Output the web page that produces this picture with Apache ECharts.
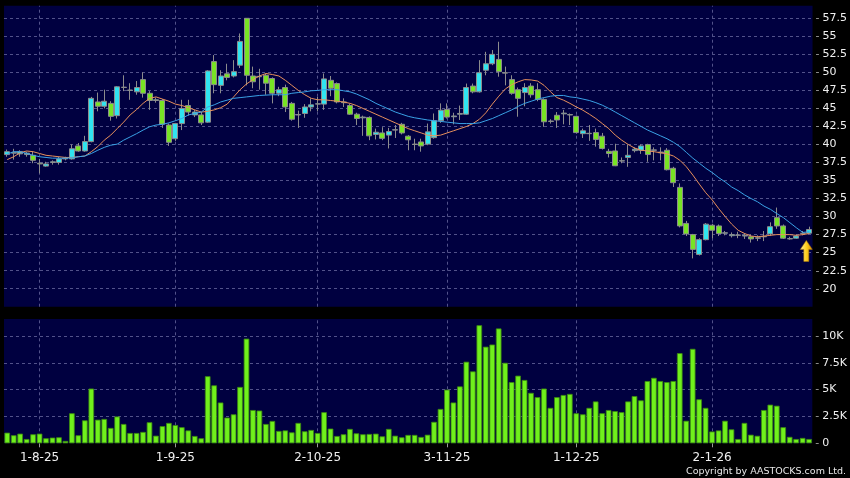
<!DOCTYPE html>
<html>
<head>
<meta charset="utf-8">
<script src="https://cdn.jsdelivr.net/npm/echarts@6/dist/echarts.min.js"></script>
<style>
html,body{margin:0;padding:0;background:#000;}
#chart{width:850px;height:478px;}
</style>
</head>
<body>
<div id="chart"></div>
<script>
const dates = [
'25-7-25','28-7-25','29-7-25','30-7-25','31-7-25',
'1-8-25','4-8-25','5-8-25','6-8-25','7-8-25','8-8-25','11-8-25','12-8-25','13-8-25','14-8-25','15-8-25','18-8-25','19-8-25','20-8-25','21-8-25','22-8-25','25-8-25','26-8-25','27-8-25','28-8-25','29-8-25',
'1-9-25','2-9-25','3-9-25','4-9-25','5-9-25','8-9-25','9-9-25','10-9-25','11-9-25','12-9-25','15-9-25','16-9-25','17-9-25','18-9-25','19-9-25','22-9-25','23-9-25','24-9-25','25-9-25','26-9-25','29-9-25','30-9-25',
'2-10-25','3-10-25','6-10-25','8-10-25','9-10-25','10-10-25','13-10-25','14-10-25','15-10-25','16-10-25','17-10-25','20-10-25','21-10-25','22-10-25','23-10-25','24-10-25','27-10-25','28-10-25','30-10-25','31-10-25',
'3-11-25','4-11-25','5-11-25','6-11-25','7-11-25','10-11-25','11-11-25','12-11-25','13-11-25','14-11-25','17-11-25','18-11-25','19-11-25','20-11-25','21-11-25','24-11-25','25-11-25','26-11-25','27-11-25','28-11-25',
'1-12-25','2-12-25','3-12-25','4-12-25','5-12-25','8-12-25','9-12-25','10-12-25','11-12-25','12-12-25','15-12-25','16-12-25','17-12-25','18-12-25','19-12-25','22-12-25','23-12-25','24-12-25','29-12-25','30-12-25','31-12-25',
'2-1-26','5-1-26','6-1-26','7-1-26','8-1-26','9-1-26','12-1-26','13-1-26','14-1-26','15-1-26','16-1-26','19-1-26','20-1-26','21-1-26','22-1-26','23-1-26'
];

const tickLabels = ['1-8-25','1-9-25','2-10-25','3-11-25','1-12-25','2-1-26'];
const priceTicks = [20,22.5,25,27.5,30,32.5,35,37.5,40,42.5,45,47.5,50,52.5,55,57.5];
const volumeTicks = ['0','2.5K','5K','7.5K','10K'];

const opens = [
38.6,38.8,38.7,38.6,38.5,37.4,37.0,37.5,37.5,38.0,
38.0,39.8,39.1,40.4,45.9,45.3,45.7,44.0,47.9,47.5,
47.3,49.0,47.1,46.1,46.1,42.7,40.8,42.9,45.4,44.1,
44.1,43.1,51.5,48.2,49.8,49.5,51.0,57.5,49.5,49.4,
49.6,49.15,47.1,47.9,45.7,44.1,44.3,45.2,45.6,45.6,
48.9,48.45,45.9,45.4,44.2,43.7,43.75,41.4,41.6,41.3,
42.0,42.8,41.15,40.05,40.35,40.05,40.95,43.3,44.85,43.85,
44.2,44.2,48.1,47.3,50.3,51.2,51.8,49.95,49.0,47.6,
47.2,48.1,47.6,46.25,43.25,44.05,44.25,44.1,43.9,41.5,
41.5,41.65,41.15,39.05,39.1,37.7,38.2,39.15,39.2,40.0,
39.2,38.95,39.2,36.7,34.05,29.05,27.5,24.75,26.8,28.8,
28.7,27.7,27.35,27.4,27.3,27.2,27.0,27.2,27.6,29.85,
28.7,26.9,27.0,27.65,27.7
];
const closes = [
39.0,38.9,39.0,38.8,37.8,37.3,37.3,37.6,38.0,38.1,
39.4,39.1,40.4,46.4,45.3,46.0,43.9,48.0,47.95,47.55,
47.9,47.1,46.1,46.2,42.8,40.3,42.9,45.0,44.5,44.5,
43.0,50.2,48.3,49.5,49.3,50.1,54.3,49.6,48.7,49.45,
48.5,47.1,47.6,45.2,43.5,44.15,45.2,45.5,45.65,49.1,
47.8,45.9,45.8,44.2,43.6,43.8,41.2,41.7,40.85,41.8,
42.05,41.6,40.65,40.0,39.8,41.75,43.3,44.75,43.8,43.95,
44.3,47.9,47.3,49.95,51.2,52.5,50.1,49.9,47.1,46.4,
47.9,46.9,46.25,43.15,43.2,43.4,44.35,44.15,41.65,41.9,
41.55,40.7,39.45,38.75,37.05,37.75,38.5,39.35,39.8,38.6,
39.25,38.85,36.5,34.7,28.7,27.6,25.45,26.8,28.95,28.1,
27.65,27.75,27.5,27.45,27.4,26.9,27.05,27.25,28.6,28.7,
27.0,26.95,27.3,27.7,28.2
];
const lows = [
38.3,37.9,38.3,38.3,37.4,36.0,36.9,37.2,37.2,37.8,
37.9,39.0,39.0,40.3,44.6,45.0,43.3,43.6,47.4,46.2,
46.9,46.5,44.8,45.8,42.3,39.8,40.5,42.0,44.0,43.8,
42.7,43.0,47.1,47.1,48.9,49.3,50.6,48.2,47.8,47.6,
46.9,45.7,46.7,44.5,43.3,42.3,43.7,44.6,44.6,44.8,
46.7,45.7,45.2,44.1,42.7,41.2,40.6,40.7,40.6,39.45,
40.9,41.4,39.2,39.2,39.0,39.9,40.8,43.0,43.6,42.8,
43.4,44.1,47.1,47.2,49.6,51.0,49.4,48.2,46.9,43.85,
45.3,46.5,46.0,42.45,42.9,42.3,42.8,42.7,41.5,40.9,
40.5,39.7,39.3,38.2,37.0,37.4,36.9,38.9,38.7,37.6,
37.8,37.8,36.4,34.1,28.5,27.3,24.2,24.6,26.7,27.0,
27.3,27.4,27.1,27.0,26.9,26.4,26.6,26.6,27.3,28.3,
26.9,26.8,26.9,27.4,27.6
];
const highs = [
39.3,39.4,39.2,39.0,39.0,38.0,37.6,37.8,38.3,38.3,
40.0,40.2,41.2,46.6,47.2,47.6,46.0,48.1,49.6,48.5,
48.8,50.0,47.4,46.5,46.3,42.9,43.0,46.2,46.2,44.8,
44.5,50.3,52.4,50.3,51.2,51.7,55.4,57.5,50.8,50.5,
49.8,49.3,48.0,48.3,45.9,44.7,45.6,46.4,46.6,49.85,
49.5,48.6,46.4,45.6,44.4,44.0,43.9,42.2,42.4,42.3,
42.7,43.0,41.3,40.8,40.8,42.9,44.3,45.7,45.7,44.4,
45.4,48.45,48.45,51.7,52.85,53.1,54.25,50.8,49.6,47.9,
48.5,48.5,48.5,46.4,43.5,44.5,44.8,44.3,44.0,42.2,
42.7,42.2,41.6,39.4,40.1,38.2,40.0,39.6,40.0,40.1,
39.6,39.6,39.5,36.9,34.6,29.4,27.6,27.0,29.1,29.0,
28.9,28.0,27.8,27.9,27.7,27.5,27.4,28.0,29.2,31.25,
28.9,27.2,27.5,28.0,28.6
];
const maOrange = [
37.9,38.3,38.85,39.1,39.0,38.75,38.5,38.4,38.3,38.2,
38.2,38.3,38.4,39.0,39.7,40.6,41.3,42.2,43.1,44.1,
44.85,45.7,46.4,46.6,46.3,46.0,45.6,45.4,45.1,44.8,
44.5,44.6,44.8,45.1,45.6,46.6,47.6,48.4,49.0,49.5,
49.85,49.7,49.5,48.9,48.2,47.5,46.9,46.4,46.2,46.2,
46.1,46.0,45.9,45.7,45.4,45.0,44.6,44.2,43.8,43.4,
43.0,42.6,42.2,41.9,41.6,41.3,41.2,41.3,41.6,41.9,
42.2,42.5,42.9,43.5,44.4,45.6,46.7,47.7,48.3,48.7,
49.0,48.95,48.8,48.2,47.3,46.5,46.15,45.7,45.2,44.75,
44.2,43.6,42.9,42.2,41.3,40.6,40.0,39.5,39.2,39.1,
39.0,38.85,38.7,38.4,37.8,36.9,35.75,34.5,33.3,32.3,
31.1,30.0,28.95,28.1,27.65,27.3,27.2,27.3,27.4,27.5,
27.5,27.5,27.4,27.5,27.65
];
const maBlue = [
38.66,39.0,39.0,38.75,38.5,38.3,38.2,38.1,38.1,38.1,
38.15,38.3,38.4,38.75,39.2,39.6,39.9,40.05,40.6,41.05,
41.5,42.0,42.45,42.7,42.8,43.0,43.3,43.6,44.1,44.3,
44.5,45.2,45.5,45.9,46.15,46.4,46.5,46.6,46.7,46.8,
46.85,46.9,46.9,46.9,47.1,47.2,47.3,47.45,47.5,47.6,
47.6,47.6,47.45,47.3,47.0,46.6,46.2,45.7,45.3,44.9,
44.5,44.2,43.9,43.7,43.55,43.4,43.3,43.2,43.1,43.0,
42.9,42.9,42.9,43.0,43.3,43.6,44.0,44.4,44.8,45.3,
45.7,46.0,46.3,46.5,46.7,46.8,46.8,46.6,46.5,46.3,
46.1,45.8,45.45,45.0,44.5,44.0,43.5,43.0,42.5,42.0,
41.6,41.2,40.8,40.3,39.7,38.9,38.1,37.4,36.7,36.1,
35.4,34.8,34.1,33.6,33.0,32.5,32.05,31.45,31.0,30.4,
29.85,29.15,28.45,27.8,27.9
];
const volumesK = [
0.99,0.75,0.9,0.4,0.84,0.9,0.47,0.53,0.56,0.22,
2.8,0.75,2.14,5.1,2.2,2.27,1.43,2.5,1.8,0.96,
0.96,1.06,1.96,0.71,1.6,1.9,1.7,1.5,1.2,0.68,
0.47,6.25,5.4,3.8,2.4,2.7,5.25,9.75,3.1,3.05,
1.8,2.08,1.15,1.2,1.02,1.9,1.12,1.24,0.96,2.9,
1.37,0.68,0.84,1.34,0.93,0.84,0.87,0.9,0.65,1.34,
0.71,0.56,0.78,0.78,0.59,0.8,2.0,3.2,5.0,3.8,
5.3,7.6,6.7,11.0,9.0,9.2,10.7,7.5,5.7,6.3,
5.9,4.7,4.3,5.1,3.3,4.3,4.5,4.6,2.8,2.7,
3.3,3.9,2.8,3.1,3.0,2.9,3.9,4.4,4.0,5.8,
6.1,5.8,5.7,5.8,8.4,2.1,8.8,4.1,3.3,1.1,
1.2,2.1,1.3,0.4,1.9,0.8,0.7,3.1,3.6,3.5,
1.5,0.6,0.4,0.5,0.4
];

const candleData = dates.map((d, i) => [opens[i], closes[i], lows[i], highs[i]]);
const lastIdx = dates.length - 1;

const FONT = 'DejaVu Sans';
const gridLineColor = '#52528a';
const isTick = (idx, val) => tickLabels.indexOf(val) >= 0;
const vGrid = {
  silent: true, symbol: 'none', z: 1, animation: false,
  label: { show: false },
  lineStyle: { color: gridLineColor, type: [3, 3], width: 1 },
  emphasis: { disabled: true },
  data: tickLabels.map(d => ({ xAxis: d }))
};
const labelRich = {
  t: { color: '#a0a0a0', fontSize: 11, fontFamily: FONT, padding: [0, 3, 0, 0] },
  v: { color: '#f0f0f0', fontSize: 11, fontFamily: FONT }
};
const priceFmt = v => {
  const hit = priceTicks.find(t => Math.abs(t - v) < 1e-6);
  return hit === undefined ? '' : '{t|-}{v|' + hit + '}';
};
const volFmt = v => {
  const k = Math.round(v / 2.5);
  return (Math.abs(v - k * 2.5) < 1e-6 && k < volumeTicks.length) ? '{t|-}{v|' + volumeTicks[k] + '}' : '';
};

const chart = echarts.init(document.getElementById('chart'), null, { renderer: 'canvas' });
chart.setOption({
  animation: false,
  backgroundColor: '#000000',
  title: {
    text: 'Copyright by AASTOCKS.com Ltd.',
    right: 4, bottom: 1, padding: 0,
    textStyle: { color: '#e8e8e8', fontSize: 9.5, fontWeight: 'normal', fontFamily: FONT }
  },
  grid: [
    { left: 4, right: 36, top: 5.7, height: 301, show: true, backgroundColor: '#000040', borderWidth: 0 },
    { left: 4, right: 36, top: 319, height: 124.3, show: true, backgroundColor: '#000040', borderWidth: 0 }
  ],
  xAxis: [
    { type: 'category', gridIndex: 0, data: dates, boundaryGap: true,
      axisLine: { show: false }, axisTick: { show: false }, axisLabel: { show: false }, splitLine: { show: false } },
    { type: 'category', gridIndex: 1, data: dates, boundaryGap: true,
      axisLine: { show: false },
      axisTick: { show: true, alignWithLabel: true, interval: isTick, length: 4, lineStyle: { color: '#9a9a9a' } },
      axisLabel: { show: true, interval: isTick, color: '#f0f0f0', fontSize: 12, fontFamily: FONT, margin: 9 },
      splitLine: { show: false } }
  ],
  yAxis: [
    { type: 'value', gridIndex: 0, position: 'right', min: 17.5, max: 59.25, interval: 2.5,
      axisLine: { show: false },
      axisTick: { show: false },
      axisLabel: { margin: 3, showMaxLabel: false, formatter: priceFmt, rich: labelRich },
      splitLine: { show: true, showMinLine: false, showMaxLine: false, lineStyle: { color: gridLineColor, type: [3, 3], width: 1 } } },
    { type: 'value', gridIndex: 1, position: 'right', min: 0, max: 11.58, interval: 2.5,
      axisLine: { show: false },
      axisTick: { show: false },
      axisLabel: { margin: 3, showMaxLabel: false, formatter: volFmt, rich: labelRich },
      splitLine: { show: true, showMinLine: false, showMaxLine: false, lineStyle: { color: gridLineColor, type: [3, 3], width: 1 } } }
  ],
  series: [
    {
      type: 'candlestick', xAxisIndex: 0, yAxisIndex: 0, data: candleData, z: 3,
      barWidth: 5.5,
      itemStyle: {
        color: '#30e4f0', color0: '#78e424',
        borderColor: '#8c8c8c', borderColor0: '#8c8c8c', borderColorDoji: '#8c8c8c', borderWidth: 1
      },
      emphasis: { disabled: true },
      markLine: vGrid,
      markPoint: {
        silent: true, animation: false,
        data: [{
          coord: [dates[lastIdx], lows[lastIdx]],
          symbol: 'path://M6,0 L12,9 L8.5,9 L8.5,21 L3.5,21 L3.5,9 L0,9 Z',
          symbolSize: [12, 21],
          symbolOffset: [-3, 17],
          itemStyle: {
            color: new echarts.graphic.LinearGradient(0, 0, 1, 0, [
              { offset: 0, color: '#fff2a0' }, { offset: 0.5, color: '#ffd020' }, { offset: 1, color: '#d89000' }
            ]),
            borderColor: '#b07800', borderWidth: 0.5
          },
          label: { show: false }
        }]
      }
    },
    { type: 'line', xAxisIndex: 0, yAxisIndex: 0, data: maOrange, showSymbol: false, z: 4,
      lineStyle: { color: '#e8905c', width: 1 }, emphasis: { disabled: true } },
    { type: 'line', xAxisIndex: 0, yAxisIndex: 0, data: maBlue, showSymbol: false, z: 4,
      lineStyle: { color: '#3aa2e6', width: 1 }, emphasis: { disabled: true } },
    {
      type: 'bar', xAxisIndex: 1, yAxisIndex: 1, data: volumesK, barWidth: 5.6, z: 3,
      itemStyle: { color: '#70f01c', borderColor: '#3c8a10', borderWidth: 0.8 },
      emphasis: { disabled: true },
      markLine: vGrid
    }
  ]
});
</script>
</body>
</html>
